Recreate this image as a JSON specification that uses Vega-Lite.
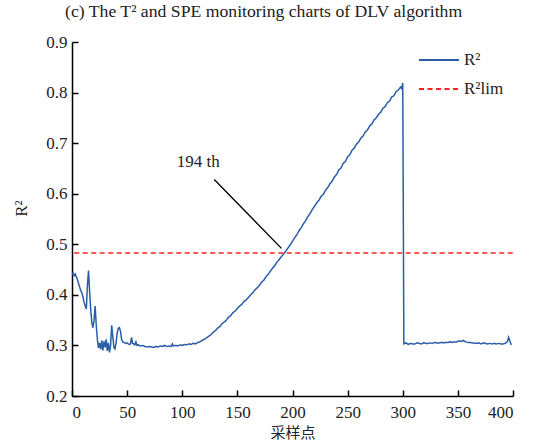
{
  "$schema": "https://vega.github.io/schema/vega-lite/v6.json",
  "width": 441,
  "height": 354,
  "autosize": "none",
  "padding": {"left": 72, "top": 42, "right": 34, "bottom": 47},
  "background": "white",
  "config": {
    "view": {"stroke": null},
    "font": "Liberation Serif",
    "axis": {"grid": false, "domainColor": "black", "domainWidth": 1.5, "tickColor": "black", "tickWidth": 1.5, "tickSize": -6, "labelFont": "Liberation Serif", "labelFontSize": 17, "labelColor": "#222", "titleFont": "Liberation Serif", "titleFontWeight": "normal", "titleColor": "#222"}
  },
  "title": {"text": "(c) The T² and SPE monitoring charts of DLV algorithm", "anchor": "start", "frame": "group", "dx": -7, "offset": 12, "fontSize": 17.7, "font": "Liberation Serif", "fontWeight": "normal", "color": "#222"},
  "datasets": {
    "series": [
      {"x":0,"y":0.440,"s":"R²"},{"x":1,"y":0.443,"s":"R²"},{"x":2,"y":0.438,"s":"R²"},{"x":3,"y":0.441,"s":"R²"},{"x":4,"y":0.435,"s":"R²"},{"x":5,"y":0.430,"s":"R²"},{"x":6,"y":0.422,"s":"R²"},{"x":7,"y":0.415,"s":"R²"},{"x":8,"y":0.408,"s":"R²"},{"x":9,"y":0.404,"s":"R²"},{"x":10,"y":0.395,"s":"R²"},{"x":11,"y":0.385,"s":"R²"},{"x":12,"y":0.378,"s":"R²"},{"x":13,"y":0.372,"s":"R²"},{"x":14,"y":0.420,"s":"R²"},{"x":15,"y":0.448,"s":"R²"},{"x":16,"y":0.405,"s":"R²"},{"x":17,"y":0.370,"s":"R²"},{"x":18,"y":0.345,"s":"R²"},{"x":19,"y":0.335,"s":"R²"},{"x":20,"y":0.350,"s":"R²"},{"x":21,"y":0.378,"s":"R²"},{"x":22,"y":0.340,"s":"R²"},{"x":23,"y":0.312,"s":"R²"},{"x":24,"y":0.295,"s":"R²"},{"x":25,"y":0.305,"s":"R²"},{"x":26,"y":0.292,"s":"R²"},{"x":27,"y":0.310,"s":"R²"},{"x":28,"y":0.290,"s":"R²"},{"x":29,"y":0.308,"s":"R²"},{"x":30,"y":0.296,"s":"R²"},{"x":31,"y":0.312,"s":"R²"},{"x":32,"y":0.289,"s":"R²"},{"x":33,"y":0.305,"s":"R²"},{"x":34,"y":0.286,"s":"R²"},{"x":35,"y":0.300,"s":"R²"},{"x":36,"y":0.340,"s":"R²"},{"x":37,"y":0.318,"s":"R²"},{"x":38,"y":0.296,"s":"R²"},{"x":39,"y":0.293,"s":"R²"},{"x":40,"y":0.305,"s":"R²"},{"x":41,"y":0.325,"s":"R²"},{"x":42,"y":0.334,"s":"R²"},{"x":43,"y":0.335,"s":"R²"},{"x":44,"y":0.328,"s":"R²"},{"x":45,"y":0.312,"s":"R²"},{"x":46,"y":0.307,"s":"R²"},{"x":47,"y":0.306,"s":"R²"},{"x":48,"y":0.305,"s":"R²"},{"x":49,"y":0.304,"s":"R²"},{"x":50,"y":0.305,"s":"R²"},{"x":51,"y":0.303,"s":"R²"},{"x":52,"y":0.302,"s":"R²"},{"x":53,"y":0.303,"s":"R²"},{"x":54,"y":0.316,"s":"R²"},{"x":55,"y":0.304,"s":"R²"},{"x":56,"y":0.303,"s":"R²"},{"x":57,"y":0.301,"s":"R²"},{"x":58,"y":0.307,"s":"R²"},{"x":59,"y":0.300,"s":"R²"},{"x":60,"y":0.301,"s":"R²"},{"x":62,"y":0.299,"s":"R²"},{"x":64,"y":0.300,"s":"R²"},{"x":66,"y":0.298,"s":"R²"},{"x":68,"y":0.297,"s":"R²"},{"x":70,"y":0.298,"s":"R²"},{"x":72,"y":0.297,"s":"R²"},{"x":74,"y":0.296,"s":"R²"},{"x":76,"y":0.298,"s":"R²"},{"x":78,"y":0.297,"s":"R²"},{"x":80,"y":0.299,"s":"R²"},{"x":82,"y":0.298,"s":"R²"},{"x":84,"y":0.300,"s":"R²"},{"x":86,"y":0.298,"s":"R²"},{"x":88,"y":0.299,"s":"R²"},{"x":90,"y":0.298,"s":"R²"},{"x":91,"y":0.303,"s":"R²"},{"x":92,"y":0.299,"s":"R²"},{"x":94,"y":0.300,"s":"R²"},{"x":96,"y":0.299,"s":"R²"},{"x":98,"y":0.301,"s":"R²"},{"x":100,"y":0.300,"s":"R²"},{"x":102,"y":0.302,"s":"R²"},{"x":104,"y":0.301,"s":"R²"},{"x":106,"y":0.303,"s":"R²"},{"x":108,"y":0.302,"s":"R²"},
      {"x":110,"y":0.304,"s":"R²"},{"x":112,"y":0.303,"s":"R²"},{"x":114,"y":0.306,"s":"R²"},{"x":116,"y":0.307,"s":"R²"},{"x":118,"y":0.310,"s":"R²"},{"x":120,"y":0.312,"s":"R²"},{"x":122,"y":0.315,"s":"R²"},{"x":124,"y":0.318,"s":"R²"},{"x":126,"y":0.321,"s":"R²"},{"x":128,"y":0.326,"s":"R²"},{"x":130,"y":0.329,"s":"R²"},{"x":132,"y":0.334,"s":"R²"},{"x":134,"y":0.337,"s":"R²"},{"x":136,"y":0.343,"s":"R²"},{"x":138,"y":0.346,"s":"R²"},{"x":140,"y":0.350,"s":"R²"},{"x":142,"y":0.356,"s":"R²"},{"x":144,"y":0.359,"s":"R²"},{"x":146,"y":0.365,"s":"R²"},{"x":148,"y":0.368,"s":"R²"},{"x":150,"y":0.373,"s":"R²"},{"x":152,"y":0.378,"s":"R²"},{"x":154,"y":0.381,"s":"R²"},{"x":156,"y":0.387,"s":"R²"},{"x":158,"y":0.390,"s":"R²"},{"x":160,"y":0.395,"s":"R²"},{"x":162,"y":0.400,"s":"R²"},{"x":164,"y":0.404,"s":"R²"},{"x":166,"y":0.410,"s":"R²"},{"x":168,"y":0.414,"s":"R²"},{"x":170,"y":0.419,"s":"R²"},{"x":172,"y":0.425,"s":"R²"},{"x":174,"y":0.429,"s":"R²"},{"x":176,"y":0.436,"s":"R²"},{"x":178,"y":0.441,"s":"R²"},{"x":180,"y":0.447,"s":"R²"},{"x":182,"y":0.453,"s":"R²"},{"x":184,"y":0.458,"s":"R²"},{"x":186,"y":0.465,"s":"R²"},{"x":188,"y":0.470,"s":"R²"},{"x":190,"y":0.476,"s":"R²"},{"x":192,"y":0.481,"s":"R²"},{"x":194,"y":0.487,"s":"R²"},{"x":196,"y":0.493,"s":"R²"},{"x":198,"y":0.499,"s":"R²"},{"x":200,"y":0.506,"s":"R²"},{"x":202,"y":0.513,"s":"R²"},{"x":204,"y":0.519,"s":"R²"},{"x":206,"y":0.527,"s":"R²"},{"x":208,"y":0.533,"s":"R²"},{"x":210,"y":0.541,"s":"R²"},{"x":212,"y":0.547,"s":"R²"},{"x":214,"y":0.555,"s":"R²"},{"x":216,"y":0.561,"s":"R²"},{"x":218,"y":0.569,"s":"R²"},{"x":220,"y":0.575,"s":"R²"},{"x":222,"y":0.582,"s":"R²"},{"x":224,"y":0.587,"s":"R²"},{"x":226,"y":0.595,"s":"R²"},{"x":228,"y":0.599,"s":"R²"},{"x":230,"y":0.607,"s":"R²"},{"x":232,"y":0.612,"s":"R²"},{"x":234,"y":0.620,"s":"R²"},{"x":236,"y":0.625,"s":"R²"},{"x":238,"y":0.633,"s":"R²"},{"x":240,"y":0.638,"s":"R²"},{"x":242,"y":0.647,"s":"R²"},{"x":244,"y":0.651,"s":"R²"},{"x":246,"y":0.660,"s":"R²"},{"x":248,"y":0.664,"s":"R²"},{"x":250,"y":0.673,"s":"R²"},{"x":252,"y":0.677,"s":"R²"},{"x":254,"y":0.686,"s":"R²"},{"x":256,"y":0.690,"s":"R²"},{"x":258,"y":0.698,"s":"R²"},{"x":260,"y":0.702,"s":"R²"},{"x":262,"y":0.710,"s":"R²"},{"x":264,"y":0.714,"s":"R²"},{"x":266,"y":0.722,"s":"R²"},{"x":268,"y":0.726,"s":"R²"},{"x":270,"y":0.734,"s":"R²"},{"x":272,"y":0.738,"s":"R²"},{"x":274,"y":0.746,"s":"R²"},{"x":276,"y":0.750,"s":"R²"},{"x":278,"y":0.757,"s":"R²"},{"x":280,"y":0.761,"s":"R²"},{"x":282,"y":0.769,"s":"R²"},{"x":284,"y":0.772,"s":"R²"},{"x":286,"y":0.780,"s":"R²"},{"x":288,"y":0.783,"s":"R²"},{"x":290,"y":0.791,"s":"R²"},{"x":292,"y":0.794,"s":"R²"},{"x":294,"y":0.802,"s":"R²"},{"x":296,"y":0.805,"s":"R²"},{"x":298,"y":0.811,"s":"R²"},{"x":299,"y":0.808,"s":"R²"},{"x":300,"y":0.819,"s":"R²"},
      {"x":301,"y":0.303,"s":"R²"},{"x":303,"y":0.305,"s":"R²"},{"x":305,"y":0.302,"s":"R²"},{"x":307,"y":0.304,"s":"R²"},{"x":309,"y":0.303,"s":"R²"},{"x":311,"y":0.303,"s":"R²"},{"x":313,"y":0.305,"s":"R²"},{"x":315,"y":0.304,"s":"R²"},{"x":317,"y":0.303,"s":"R²"},{"x":319,"y":0.305,"s":"R²"},{"x":321,"y":0.304,"s":"R²"},{"x":323,"y":0.304,"s":"R²"},{"x":325,"y":0.305,"s":"R²"},{"x":327,"y":0.304,"s":"R²"},{"x":329,"y":0.306,"s":"R²"},{"x":331,"y":0.305,"s":"R²"},{"x":333,"y":0.305,"s":"R²"},{"x":335,"y":0.306,"s":"R²"},{"x":337,"y":0.305,"s":"R²"},{"x":339,"y":0.306,"s":"R²"},{"x":341,"y":0.306,"s":"R²"},{"x":343,"y":0.307,"s":"R²"},{"x":345,"y":0.306,"s":"R²"},{"x":347,"y":0.307,"s":"R²"},{"x":349,"y":0.307,"s":"R²"},{"x":351,"y":0.309,"s":"R²"},{"x":353,"y":0.308,"s":"R²"},{"x":355,"y":0.310,"s":"R²"},{"x":357,"y":0.307,"s":"R²"},{"x":359,"y":0.306,"s":"R²"},{"x":361,"y":0.306,"s":"R²"},{"x":363,"y":0.305,"s":"R²"},{"x":365,"y":0.305,"s":"R²"},{"x":367,"y":0.304,"s":"R²"},{"x":369,"y":0.305,"s":"R²"},{"x":371,"y":0.303,"s":"R²"},{"x":373,"y":0.305,"s":"R²"},{"x":375,"y":0.304,"s":"R²"},{"x":377,"y":0.303,"s":"R²"},{"x":379,"y":0.304,"s":"R²"},{"x":381,"y":0.303,"s":"R²"},{"x":383,"y":0.304,"s":"R²"},{"x":385,"y":0.303,"s":"R²"},{"x":387,"y":0.304,"s":"R²"},{"x":389,"y":0.303,"s":"R²"},{"x":391,"y":0.303,"s":"R²"},{"x":393,"y":0.304,"s":"R²"},{"x":395,"y":0.308,"s":"R²"},{"x":396,"y":0.316,"s":"R²"},{"x":397,"y":0.310,"s":"R²"},{"x":398,"y":0.303,"s":"R²"},{"x":399,"y":0.302,"s":"R²"},
      {"x":2,"y":0.483,"s":"R²lim"},{"x":400,"y":0.483,"s":"R²lim"}
    ],
    "note": [{"x":129,"y":0.628,"x2":190,"y2":0.492,"label":"194 th","tx":114.6,"ty":0.663}]
  },
  "layer": [
    {
      "data": {"name": "series"},
      "mark": {"type": "line", "strokeWidth": 1.5, "clip": true},
      "encoding": {
        "x": {"field": "x", "type": "quantitative", "scale": {"domain": [0, 400], "nice": false}, "axis": {"values": [0,50,100,150,200,250,300,350,400], "title": "采样点", "titleFont": "Noto Sans CJK SC", "titleFontSize": 15, "titlePadding": 5, "labelPadding": 14}},
        "y": {"field": "y", "type": "quantitative", "scale": {"domain": [0.2, 0.9], "nice": false, "zero": false}, "axis": {"values": [0.2,0.3,0.4,0.5,0.6,0.7,0.8,0.9], "format": ".1f", "title": "R²", "titleFontSize": 17, "titlePadding": 15, "titleY": 166, "labelPadding": 11}},
        "color": {"field": "s", "type": "nominal", "scale": {"domain": ["R²", "R²lim"], "range": ["#2b5cab", "#ff2222"]}, "legend": {"title": null, "orient": "none", "legendX": 346, "legendY": -3, "symbolType": "stroke", "symbolSize": 1600, "symbolStrokeWidth": 2, "labelFont": "Liberation Serif", "labelFontSize": 17, "labelColor": "#222", "labelOffset": 4, "rowPadding": -3}},
        "strokeDash": {"field": "s", "type": "nominal", "scale": {"domain": ["R²", "R²lim"], "range": [[1, 0], [5, 3.5]]}, "legend": {"title": null, "orient": "none", "legendX": 346, "legendY": -3, "symbolType": "stroke", "symbolSize": 1600, "symbolStrokeWidth": 2, "labelFont": "Liberation Serif", "labelFontSize": 17, "labelColor": "#222", "labelOffset": 4, "rowPadding": -3}}
      }
    },
    {
      "data": {"name": "note"},
      "mark": {"type": "rule", "color": "black", "strokeWidth": 1.3},
      "encoding": {"x": {"field": "x", "type": "quantitative"}, "y": {"field": "y", "type": "quantitative"}, "x2": {"field": "x2"}, "y2": {"field": "y2"}}
    },
    {
      "data": {"name": "note"},
      "mark": {"type": "text", "font": "Liberation Serif", "fontSize": 17, "color": "#222"},
      "encoding": {"x": {"field": "tx", "type": "quantitative"}, "y": {"field": "ty", "type": "quantitative"}, "text": {"field": "label"}}
    }
  ]
}
